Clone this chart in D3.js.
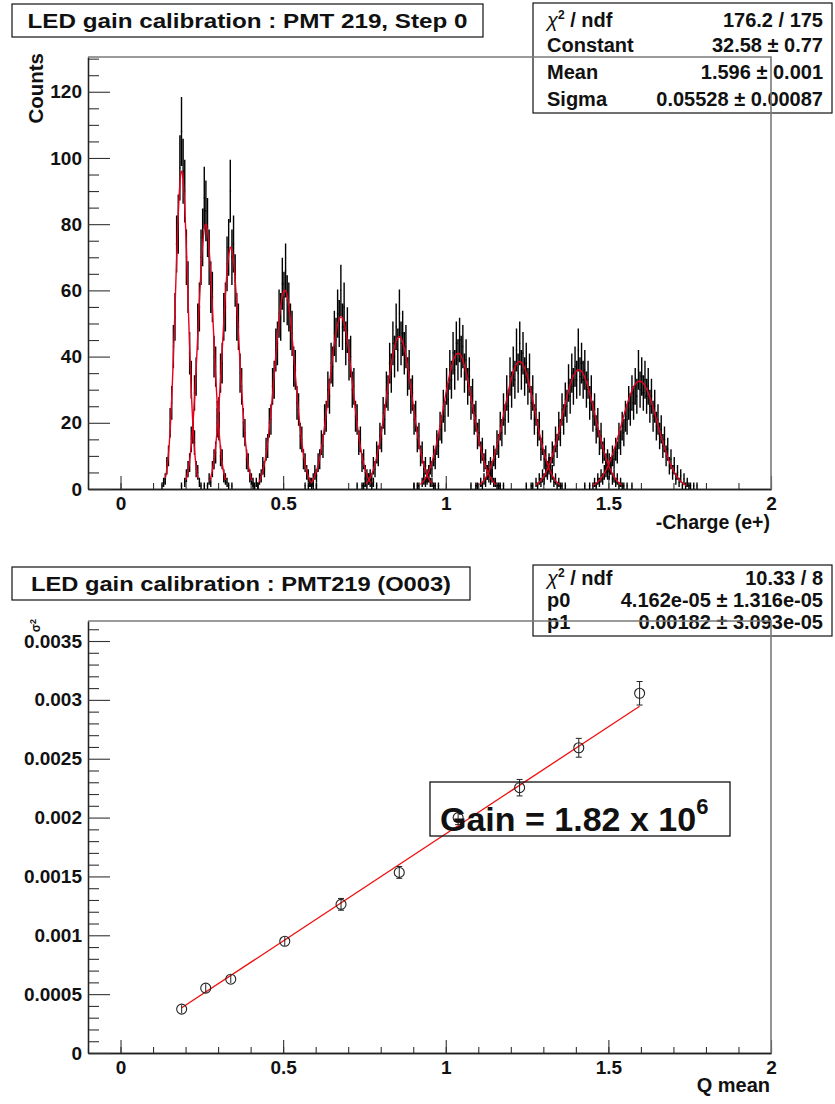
<!DOCTYPE html>
<html>
<head>
<meta charset="utf-8">
<script src="https://cdn.jsdelivr.net/npm/d3@7"></script>
<style>
  body { margin: 0; background: #fff; }
  svg text { font-family: "Liberation Sans", Arial, Helvetica, sans-serif; font-weight: bold; fill: #111; }
</style>
</head>
<body>
<div id="chart"></div>
<script>
// LED gain calibration for PMT 219 -- values

const BIN_W = 0.005;

// charge spectra, one per LED step: low edge of first bin + counts per bin
const histStart = [0.120, 0.180, 0.255, 0.400, 0.555, 0.720, 0.890, 1.065, 1.230, 1.405];
const hist1 = [0,1,2,3,7,10,20,26,43,52,74,80,97,108,96,90,70,61,41,33,18,14,6,5,2,1,0];
const hist2 = [0,1,0,2,4,6,8,15,18,29,34,49,55,70,76,88,84,79,70,61,58,40,37,22,19,10,9,4,3,2,1,0,1];
const hist3 = [1,0,1,3,2,6,9,11,20,23,35,38,52,55,68,73,90,70,74,63,52,49,35,31,20,17,9,8,4,3,2,1,0,1];
const hist4 = [0,1,0,2,1,3,4,7,6,12,13,20,21,31,33,42,44,53,52,62,58,66,57,55,49,47,37,36,26,24,16,15,9,8,5,4,2,2,1,0,1,0];
const hist5 = [0,0,1,0,1,2,1,3,5,4,8,9,14,13,21,22,30,28,38,37,47,45,53,50,60,49,55,44,48,39,40,30,31,22,21,14,15,8,9,5,4,3,2,1,2,0,1,0,0];
const hist6 = [0,1,0,0,1,1,2,1,3,4,3,7,6,11,10,16,15,23,21,30,29,38,35,44,40,49,42,53,44,47,41,43,34,36,28,29,21,22,15,16,10,11,6,7,3,4,2,2,1,1,0,1,0,0,0];
const hist7 = [0,0,1,0,1,1,0,2,3,2,4,5,7,6,10,9,14,13,19,18,25,22,31,27,36,33,41,36,44,39,45,40,43,35,39,31,34,26,28,21,22,16,17,11,12,8,9,5,6,3,4,2,2,1,1,1,0,1,0,0,0];
const hist8 = [0,0,1,0,0,1,1,0,2,1,3,2,5,4,7,6,10,9,14,13,19,17,24,21,29,25,34,30,37,33,42,35,44,36,41,34,38,31,35,26,29,21,24,17,19,12,14,9,10,6,7,4,5,2,3,1,2,1,1,0,1,0,0,0,0];
const hist9 = [0,0,0,1,0,0,1,1,0,2,1,3,2,4,3,6,5,8,7,11,10,15,13,19,17,24,21,27,25,32,28,35,31,37,33,42,34,38,33,36,30,33,26,29,22,24,18,20,14,16,11,12,8,9,5,7,3,4,2,3,1,2,1,1,0,1,0,0,1,0,0];
const hist10 = [0,0,0,0,1,0,0,1,0,1,2,1,3,2,4,3,5,6,5,8,7,10,9,12,11,16,14,19,17,22,21,26,24,29,26,31,28,36,30,34,29,33,28,31,25,28,22,25,19,21,16,18,13,15,10,12,7,9,5,7,3,5,2,4,1,3,1,2,1,1,0,1,0,1,0,0,0];
const histCounts = [hist1, hist2, hist3, hist4, hist5, hist6, hist7, hist8, hist9, hist10];

// gaussian fit of each peak: constant, mean (= Q mean), sigma^2
const fitConst = [96, 80, 73, 60, 52, 46, 41, 38.5, 36, 32.58];
const qMean = [0.188, 0.262, 0.339, 0.505, 0.678, 0.857, 1.038, 1.227, 1.409, 1.596];
const sigma2 = [0.000373, 0.000551, 0.000627, 0.000949, 0.001263, 0.001534, 0.00200, 0.002254, 0.002593, 0.003056];
const sigma2Err = [0.00002, 0.00003, 0.00003, 0.00004, 0.00005, 0.00005, 0.00006, 0.00007, 0.00008, 0.0001];

// straight line fit sigma^2 = p0 + p1 * Q
const p0 = 4.162e-05;
const p1 = 0.00182;

const statsTop = [["chi2", "176.2 / 175"], ["Constant", "32.58 \u00b1 0.77"], ["Mean", "1.596 \u00b1 0.001"], ["Sigma", "0.05528 \u00b1 0.00087"]];
const statsBottom = [["chi2", "10.33 / 8"], ["p0", "4.162e-05 \u00b1 1.316e-05"], ["p1", "0.00182 \u00b1 3.093e-05"]];

const xTicks = [0, 0.5, 1, 1.5, 2];
const countTicks = [0, 20, 40, 60, 80, 100, 120];
const sigmaTicks = [0, 0.0005, 0.001, 0.0015, 0.002, 0.0025, 0.003, 0.0035];

const W = 835, H = 1104;
const svg = d3.select("#chart").append("svg").attr("width", W).attr("height", H);

const x = d3.scaleLinear().domain([-0.1, 2]).range([88, 771]);
const yTop = d3.scaleLinear().domain([0, 130.5]).range([489, 57]);
const yBot = d3.scaleLinear().domain([0, 0.00367]).range([1053, 621]);

const xMinor = d3.range(-1, 21).map(v => v / 10);
const fmt = d3.format("~g");

function drawAxes(y, majors, minors) {
  const [y0] = y.range();
  const g = svg.append("g");

  // minor ticks first, majors with labels over them
  g.append("g").attr("transform", `translate(0,${y0})`)
    .call(d3.axisBottom(x).tickValues(xMinor).tickSizeInner(-6).tickSizeOuter(0).tickFormat(""));
  g.append("g").attr("transform", `translate(0,${y0})`)
    .call(d3.axisBottom(x).tickValues(xTicks).tickSizeInner(-13).tickSizeOuter(0).tickPadding(8).tickFormat(fmt));
  g.append("g").attr("transform", `translate(${x.range()[0]},0)`)
    .call(d3.axisLeft(y).tickValues(minors).tickSizeInner(-11).tickSizeOuter(0).tickFormat(""));
  g.append("g").attr("transform", `translate(${x.range()[0]},0)`)
    .call(d3.axisLeft(y).tickValues(majors).tickSizeInner(-22).tickSizeOuter(0).tickPadding(6).tickFormat(fmt));

  g.selectAll(".domain").attr("stroke", "#222").attr("stroke-width", 1.3);
  g.selectAll(".tick line").attr("stroke", "#333").attr("stroke-width", 1.1);
  g.selectAll(".tick text").attr("font-size", 19).attr("fill", "#111");
  return g;
}

// frame top and right edge, drawn last so it runs over the boxes like in ROOT
function drawFrame(y) {
  const [xl, xr] = x.range();
  const [yb, yt] = y.range();
  svg.append("path")
    .attr("d", `M${xl},${yt}H${xr}V${yb}`)
    .attr("fill", "none").attr("stroke", "#7a7a7a").attr("stroke-width", 1.6);
}

function drawBox(x0, y0, w, h, text, size, len) {
  svg.append("rect").attr("x", x0).attr("y", y0).attr("width", w).attr("height", h)
    .attr("fill", "#fff").attr("stroke", "#111").attr("stroke-width", 1.2);
  svg.append("text").attr("x", x0 + w / 2).attr("y", y0 + h / 2 + size * 0.36)
    .attr("text-anchor", "middle").attr("font-size", size)
    .attr("textLength", len).attr("lengthAdjust", "spacingAndGlyphs").text(text);
}

function drawStats(rows, x0, y0, w, h, rowY) {
  svg.append("rect").attr("x", x0).attr("y", y0).attr("width", w).attr("height", h)
    .attr("fill", "#fff").attr("stroke", "#111").attr("stroke-width", 1.2);
  rows.forEach(([label, value], i) => {
    const t = svg.append("text").attr("x", x0 + 14).attr("y", rowY[i] + 7).attr("font-size", 20);
    if (label === "chi2") {
      t.append("tspan").attr("font-weight", "normal").attr("font-style", "italic").text("\u03c7");
      t.append("tspan").attr("font-size", 12).attr("dy", -8).text("2");
      t.append("tspan").attr("dy", 8).text(" / ndf");
    } else {
      t.text(label);
    }
    svg.append("text").attr("x", x0 + w - 9).attr("y", rowY[i] + 7)
      .attr("text-anchor", "end").attr("font-size", 20).text(value);
  });
}

// ---------- top panel: charge spectra ----------
drawAxes(yTop, countTicks, d3.range(0, 131, 5).filter(v => v % 20 !== 0));

const gHist = svg.append("g");
histCounts.forEach((counts, i) => {
  const p = d3.path();
  counts.forEach((n, j) => {
    if (n <= 0) return;
    const lo = histStart[i] + j * BIN_W;
    const hi = lo + BIN_W;
    const mid = lo + BIN_W / 2;
    const e = Math.sqrt(n);
    p.moveTo(x(lo), yTop(n));
    p.lineTo(x(hi), yTop(n));
    p.moveTo(x(mid), yTop(Math.max(n - e, 0)));
    p.lineTo(x(mid), yTop(n + e));
  });
  gHist.append("path").attr("d", p.toString())
    .attr("fill", "none").attr("stroke", "#000").attr("stroke-width", 1.4);
});

const gFit = svg.append("g");
fitConst.forEach((c, i) => {
  const m = qMean[i];
  const s = Math.sqrt(sigma2[i]);
  const xs = d3.range(m - 2.6 * s, m + 2.6 * s + 1e-9, s / 40);
  gFit.append("path").datum(xs)
    .attr("d", d3.line().x(v => x(v)).y(v => yTop(c * Math.exp(-0.5 * ((v - m) / s) ** 2))))
    .attr("fill", "none").attr("stroke", "#e8001c").attr("stroke-width", 1.4);
});

svg.append("text").attr("x", 770).attr("y", 529).attr("text-anchor", "end")
  .attr("font-size", 19.5).text("-Charge (e+)");
svg.append("text").attr("transform", "translate(43,53) rotate(-90)")
  .attr("text-anchor", "end").attr("font-size", 20.5).text("Counts");

drawBox(12, 4, 471, 33, "LED gain calibration : PMT 219, Step 0", 21, 440);
drawStats(statsTop, 533, 3, 299, 110, [20, 45, 72, 99]);
drawFrame(yTop);

// ---------- bottom panel: sigma^2 vs Q mean ----------
drawAxes(yBot, sigmaTicks, d3.range(0, 37).map(v => v / 10000).filter(v => Math.round(v * 10000) % 5 !== 0));

const gGraph = svg.append("g");
gGraph.append("line")
  .attr("x1", x(qMean[0])).attr("y1", yBot(p0 + p1 * qMean[0]))
  .attr("x2", x(qMean[qMean.length - 1])).attr("y2", yBot(p0 + p1 * qMean[qMean.length - 1]))
  .attr("stroke", "#f01010").attr("stroke-width", 1.3);

const pts = gGraph.selectAll("g.pt").data(qMean.map((q, i) => ({ q, s: sigma2[i], e: sigma2Err[i] })))
  .join("g").attr("class", "pt");
pts.append("line")
  .attr("x1", d => x(d.q)).attr("x2", d => x(d.q))
  .attr("y1", d => Math.min(yBot(d.s + d.e), yBot(d.s) - 4))
  .attr("y2", d => Math.max(yBot(d.s - d.e), yBot(d.s) + 4))
  .attr("stroke", "#222").attr("stroke-width", 1);
pts.filter(d => yBot(d.s - d.e) - yBot(d.s + d.e) > 10).each(function (d) {
  const g = d3.select(this);
  [d.s + d.e, d.s - d.e].forEach(v => {
    g.append("line").attr("x1", x(d.q) - 3).attr("x2", x(d.q) + 3)
      .attr("y1", yBot(v)).attr("y2", yBot(v)).attr("stroke", "#222").attr("stroke-width", 1);
  });
});
pts.append("circle").attr("cx", d => x(d.q)).attr("cy", d => yBot(d.s)).attr("r", 5)
  .attr("fill", "none").attr("stroke", "#222").attr("stroke-width", 1.1);

// gain label, transparent box as in the canvas
svg.append("rect").attr("x", 430).attr("y", 782).attr("width", 300).attr("height", 54)
  .attr("fill", "none").attr("stroke", "#111").attr("stroke-width", 1.3);
const gainText = svg.append("text").attr("x", 440).attr("y", 831).attr("font-size", 34);
gainText.append("tspan").text("Gain = 1.82 x 10");
gainText.append("tspan").attr("font-size", 22).attr("dy", -17).text("6");

svg.append("text").attr("x", 770).attr("y", 1092).attr("text-anchor", "end")
  .attr("font-size", 20).text("Q mean");
const sLabel = svg.append("text").attr("transform", "translate(40,619) rotate(-90)")
  .attr("text-anchor", "end").attr("font-size", 12).attr("font-weight", "normal");
sLabel.append("tspan").text("\u03c3");
sLabel.append("tspan").attr("font-size", 9).attr("dy", -4).text("2");

drawBox(12, 567, 458, 33, "LED gain calibration : PMT219 (O003)", 21, 420);
drawStats(statsBottom, 533, 565, 299, 71, [578, 600, 622]);
drawFrame(yBot);
</script>
</body>
</html>
